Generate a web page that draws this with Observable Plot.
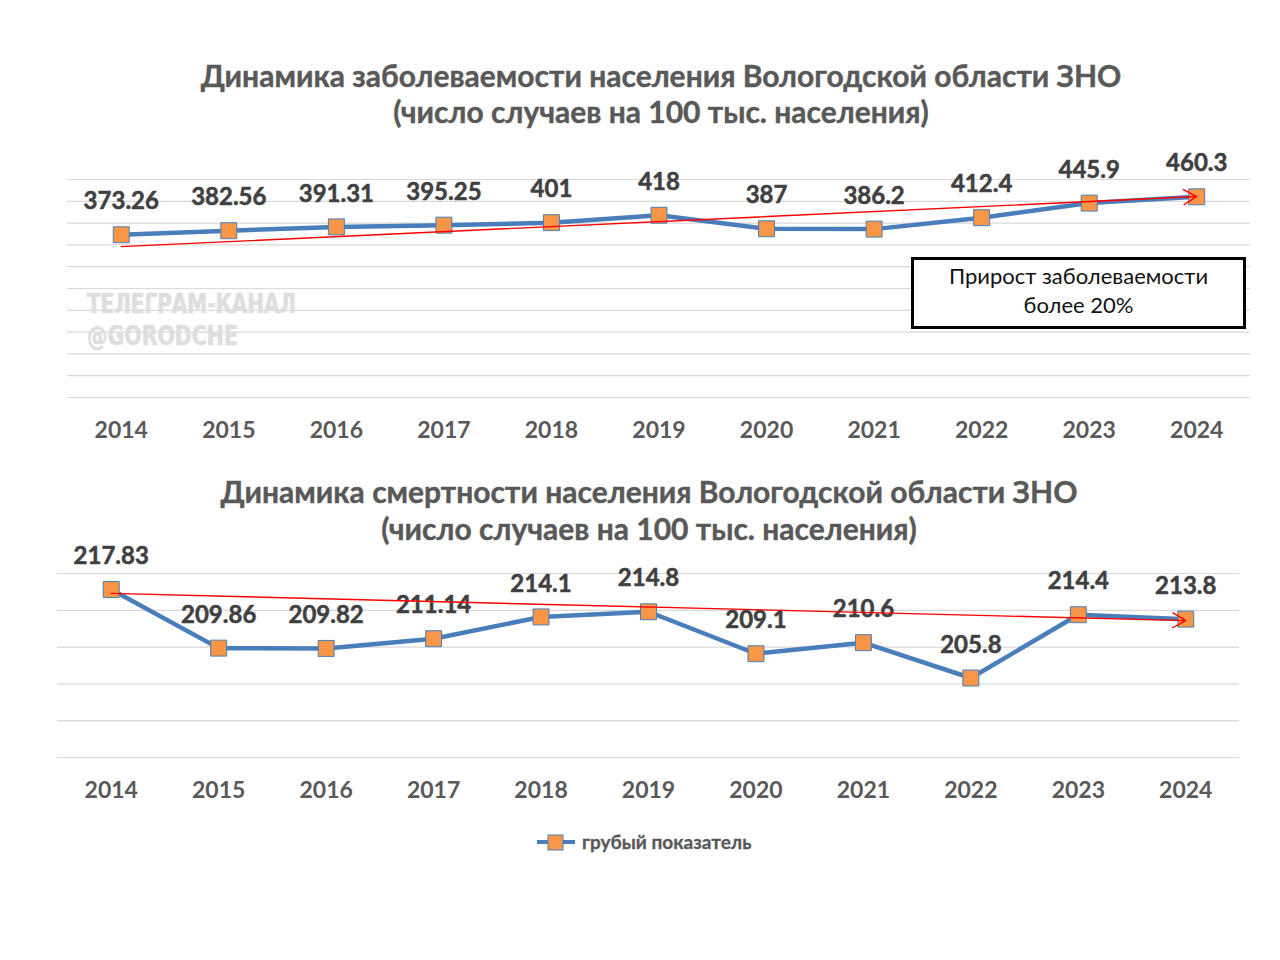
<!DOCTYPE html>
<html>
<head>
<meta charset="utf-8">
<script src="https://cdn.jsdelivr.net/npm/d3@7"></script>
<script src="https://cdn.jsdelivr.net/npm/@observablehq/plot@0.6"></script>
<style>
  html, body { margin: 0; padding: 0; background: #fff; }
  body { width: 1280px; height: 960px; position: relative; overflow: hidden; font-family: Lato, "Open Sans", sans-serif; }
  .title { position: absolute; width: 1280px; text-align: center; font-weight: bold; color: #595959; font-size: 30px; line-height: 36px; white-space: nowrap; -webkit-text-stroke: 0.4px #595959; }
  .chart { position: absolute; left: 0; }
  .note { position: absolute; left: 911px; top: 257px; width: 335px; height: 72px; box-sizing: border-box; border: 3px solid #000; text-align: center; font-size: 22px; line-height: 29px; color: #111; padding-top: 1px; background: #fff; }
  .wm { position: absolute; left: 87px; color: #dedede; font-family: "Liberation Sans Narrow", "DejaVu Sans Condensed", Lato, sans-serif; font-weight: bold; font-size: 26px; line-height: 30px; white-space: nowrap; transform-origin: left top; -webkit-text-stroke: 0.6px #dedede; }
  .legend { position: absolute; left: 536px; top: 830px; display: flex; align-items: center; font-weight: bold; color: #595959; font-size: 19px; -webkit-text-stroke: 0.3px #595959; }
</style>
</head>
<body>
<div class="title" style="left:21px; top:57px;">Динамика заболеваемости населения Вологодской области ЗНО</div>
<div class="title" style="left:21px; top:93px;">(число случаев на 100 тыс. населения)</div>
<div id="c1" class="chart" style="top:150px;"></div>
<div id="wm1" class="wm" style="top:289px;">ТЕЛЕГРАМ-КАНАЛ</div>
<div id="wm2" class="wm" style="top:321px;">@GORODCHE</div>
<div class="note">Прирост заболеваемости<br>более 20%</div>

<div class="title" style="left:9px; top:473px;">Динамика смертности населения Вологодской области ЗНО</div>
<div class="title" style="left:9px; top:510px;">(число случаев на 100 тыс. населения)</div>
<div id="c2" class="chart" style="top:540px;"></div>

<div class="legend">
  <svg width="40" height="20" style="margin-right:6px">
    <line x1="1" y1="10" x2="39" y2="10" stroke="#4a7ebb" stroke-width="4"></line>
    <rect x="12" y="3" width="15" height="15" fill="#f79646" stroke="#4a7ebb" stroke-width="1"></rect>
  </svg>
  <span>грубый показатель</span>
</div>

<script>
const years = ["2014", "2015", "2016", "2017", "2018", "2019", "2020", "2021", "2022", "2023", "2024"];
const incidence = [373.26, 382.56, 391.31, 395.25, 401, 418, 387, 386.2, 412.4, 445.9, 460.3];
const mortality = [217.83, 209.86, 209.82, 211.14, 214.1, 214.8, 209.1, 210.6, 205.8, 214.4, 213.8];
const incidenceTicks = [0, 50, 100, 150, 200, 250, 300, 350, 400, 450, 500];
const mortalityTicks = [195, 200, 205, 210, 215, 220];
const incidenceTrend = [346, 461];   // start (2014) and end (2024) of the hand-drawn trend arrow
const mortalityTrend = [217.3, 213.6];

function chart({values, ticks, domain, trend, marginLeft, marginRight, marginTop, marginBottom, height}) {
  const data = years.map((y, i) => ({year: y, value: values[i]}));
  const arrow = [{x1: years[0], y1: trend[0], x2: years[years.length - 1], y2: trend[1]}];
  return Plot.plot({
    width: 1280,
    height,
    marginLeft, marginRight, marginTop, marginBottom,
    style: {fontFamily: "Lato, 'Open Sans', sans-serif", background: "transparent", overflow: "visible"},
    x: {type: "point", domain: years, padding: 0.5, round: false, label: null},
    y: {domain, axis: null},
    marks: [
      Plot.ruleY(ticks, {stroke: "#d9d9d9", strokeWidth: 1.2}),
      Plot.axisX({tickSize: 0, tickPadding: 24, fontSize: 23, fontWeight: "bold", fill: "#595959", label: null}),
      Plot.line(data, {x: "year", y: "value", stroke: "#4a7ebb", strokeWidth: 4.5}),
      Plot.dot(data, {x: "year", y: "value", symbol: "square", r: 9, fill: "#f79646", stroke: "#4a7ebb", strokeWidth: 1, fillOpacity: 1}),
      Plot.text(data, {x: "year", y: "value", text: d => String(d.value), dy: -33, fontSize: 24, fontWeight: "bold", fill: "#404040", stroke: "#404040", strokeWidth: 0.5}),
      Plot.arrow(arrow, {x1: "x1", y1: "y1", x2: "x2", y2: "y2", stroke: "#ff0000", strokeWidth: 1.4, bend: 0, headLength: 16, insetStart: 0, insetEnd: 0})
    ]
  });
}

document.getElementById("c1").append(chart({
  values: incidence, ticks: incidenceTicks, domain: [0, 500], trend: incidenceTrend,
  marginLeft: 67, marginRight: 30, marginTop: 29, marginBottom: 53, height: 300
}));
document.getElementById("c2").append(chart({
  values: mortality, ticks: mortalityTicks, domain: [195, 220], trend: mortalityTrend,
  marginLeft: 57, marginRight: 41, marginTop: 33, marginBottom: 53, height: 270
}));

// fit the watermark lines to the reference widths (condensed lettering)
[["wm1", 209], ["wm2", 151]].forEach(([id, w]) => {
  const el = document.getElementById(id);
  const s = w / el.getBoundingClientRect().width;
  el.style.transform = `scale(${s}, 1)`;
});
</script>
</body>
</html>
